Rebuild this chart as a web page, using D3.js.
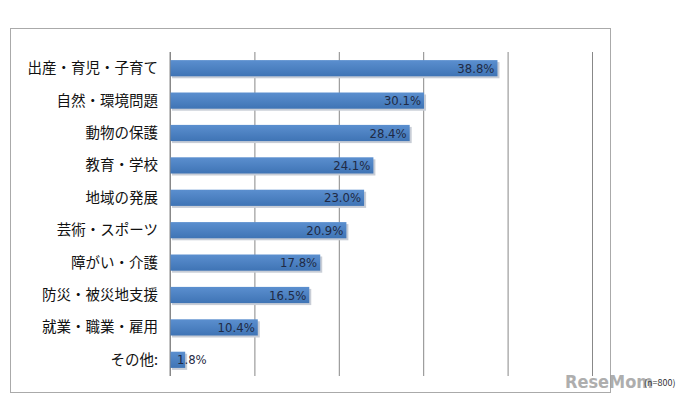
<!DOCTYPE html><html><head><meta charset="utf-8"><script src="https://cdn.jsdelivr.net/npm/d3@7"></script>
<style>body{margin:0;background:#fff}</style></head><body><svg id="c" width="682" height="401"></svg><script>
const categories=["出産・育児・子育て","自然・環境問題","動物の保護","教育・学校","地域の発展","芸術・スポーツ","障がい・介護","防災・被災地支援","就業・職業・雇用","その他:"];
const values=[38.8,30.1,28.4,24.1,23.0,20.9,17.8,16.5,10.4,1.8];
const ticks=[0,10,20,30,40,50];
const svg=d3.select("#c");
const font="'Noto Sans CJK JP',sans-serif";
svg.append("rect").attr("x",10.5).attr("y",28.5).attr("width",600).attr("height",364).attr("fill","#fff").attr("stroke","#aaa");
const x=d3.scaleLinear().domain([0,50]).range([170,592]);
const y=d3.scaleBand().domain(categories).range([52,376]).paddingInner(0.5).paddingOuter(0.25);
svg.append("g").attr("transform","translate(0,376)").call(d3.axisBottom(x).tickValues(ticks).tickSize(-324).tickFormat(""))
 .call(a=>{a.select(".domain").remove();a.selectAll("line").attr("stroke","#888").attr("stroke-width",1);});
const gr=svg.append("defs").append("linearGradient").attr("id","bg").attr("x1",0).attr("y1",0).attr("x2",0).attr("y2",1);
gr.append("stop").attr("offset",0).attr("stop-color","#5b8fcf");
gr.append("stop").attr("offset",1).attr("stop-color","#3f74b5");
categories.forEach((c,i)=>{
  const yy=y(c),h=y.bandwidth(),w=x(values[i])-x(0),small=w<40;
  svg.append("rect").attr("x",x(0)+2).attr("y",yy+2).attr("width",w).attr("height",h).attr("fill","#c8cdd6");
  svg.append("rect").attr("x",x(0)).attr("y",yy).attr("width",w).attr("height",h).attr("fill","url(#bg)");
  svg.append("text").attr("x",small?x(0)+7:x(values[i])-3).attr("y",yy+h/2).attr("dy","0.35em").attr("text-anchor",small?"start":"end")
   .attr("font-family","'Liberation Sans Narrow','DejaVu Sans Condensed',sans-serif").attr("font-size",13).attr("fill","#1f2a44").text(values[i].toFixed(1)+"%");
  svg.append("text").attr("x",158).attr("y",yy+h/2).attr("dy","0.35em").attr("text-anchor","end")
   .attr("font-family",font).attr("font-size",14.5).attr("fill","#111").text(c);
});
svg.append("line").attr("x1",170).attr("x2",170).attr("y1",52).attr("y2",376).attr("stroke","#888");
svg.append("text").attr("x",565).attr("y",388).attr("font-family","'DejaVu Sans Condensed',sans-serif").attr("font-weight","bold").attr("font-size",18).attr("fill","#9a9a9a").attr("opacity",0.8).text("ReseMom");
svg.append("text").attr("x",644).attr("y",386).attr("font-family",font).attr("font-size",9).attr("fill","#333").text("(n=800)");
</script></body></html>
